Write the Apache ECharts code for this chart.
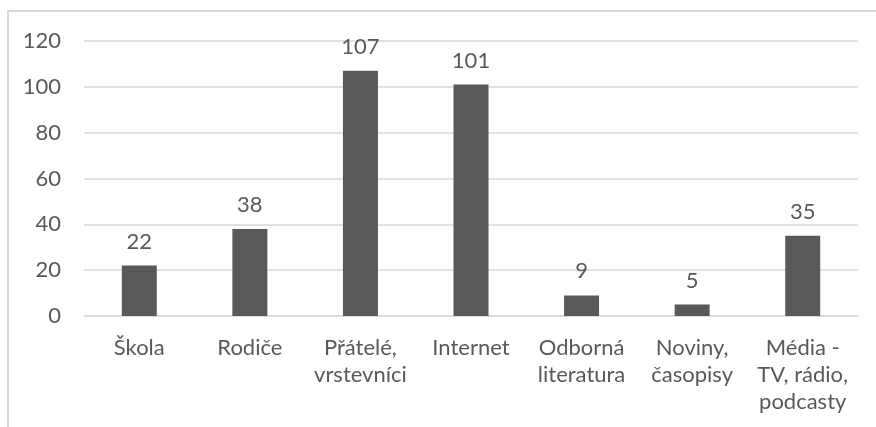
<!DOCTYPE html>
<html>
<head>
<meta charset="utf-8">
<script src="https://cdn.jsdelivr.net/npm/echarts@6/dist/echarts.min.js"></script>
<style>
  html, body { margin: 0; padding: 0; background: #fff; }
  #chart { width: 876px; height: 427px; }
</style>
</head>
<body>
<div id="chart"></div>
<script>
const categories = ["Škola", "Rodiče", "Přátelé,\nvrstevníci", "Internet", "Odborná\nliteratura", "Noviny,\nčasopisy", "Média -\nTV, rádio,\npodcasty"];
const values = [22, 38, 107, 101, 9, 5, 35];
const yTicks = { min: 0, max: 120, interval: 20 };

const textColor = "#595959";
const font = "Lato";

const chart = echarts.init(document.getElementById("chart"));

const option = {
  animation: false,
  textStyle: { fontFamily: font },
  graphic: [
    {
      type: "rect",
      shape: { x: 8, y: 11, width: 900, height: 500 },
      style: { fill: "none", stroke: "#d9d9d9", lineWidth: 2 },
      silent: true,
    },
  ],
  grid: { left: 84, right: 18, top: 41, bottom: 111, containLabel: false },
  xAxis: {
    type: "category",
    data: categories,
    axisLine: { show: true, lineStyle: { color: "#d9d9d9", width: 1.5 } },
    axisTick: { show: false },
    axisLabel: {
      interval: 0,
      color: textColor,
      fontSize: 22,
      lineHeight: 27,
      margin: 18,
      fontFamily: font,
    },
  },
  yAxis: {
    type: "value",
    min: yTicks.min,
    max: yTicks.max,
    interval: yTicks.interval,
    axisLine: { show: false },
    axisTick: { show: false },
    splitLine: { lineStyle: { color: "#d9d9d9", width: 1.5 } },
    axisLabel: { color: textColor, fontSize: 22, margin: 23, fontFamily: font },
  },
  series: [
    {
      type: "bar",
      data: values,
      barWidth: 35,
      itemStyle: { color: "#595959" },
      label: {
        show: true,
        position: "top",
        distance: 13,
        color: textColor,
        fontSize: 22,
        fontFamily: font,
      },
    },
  ],
};

chart.setOption(option);
</script>
</body>
</html>
